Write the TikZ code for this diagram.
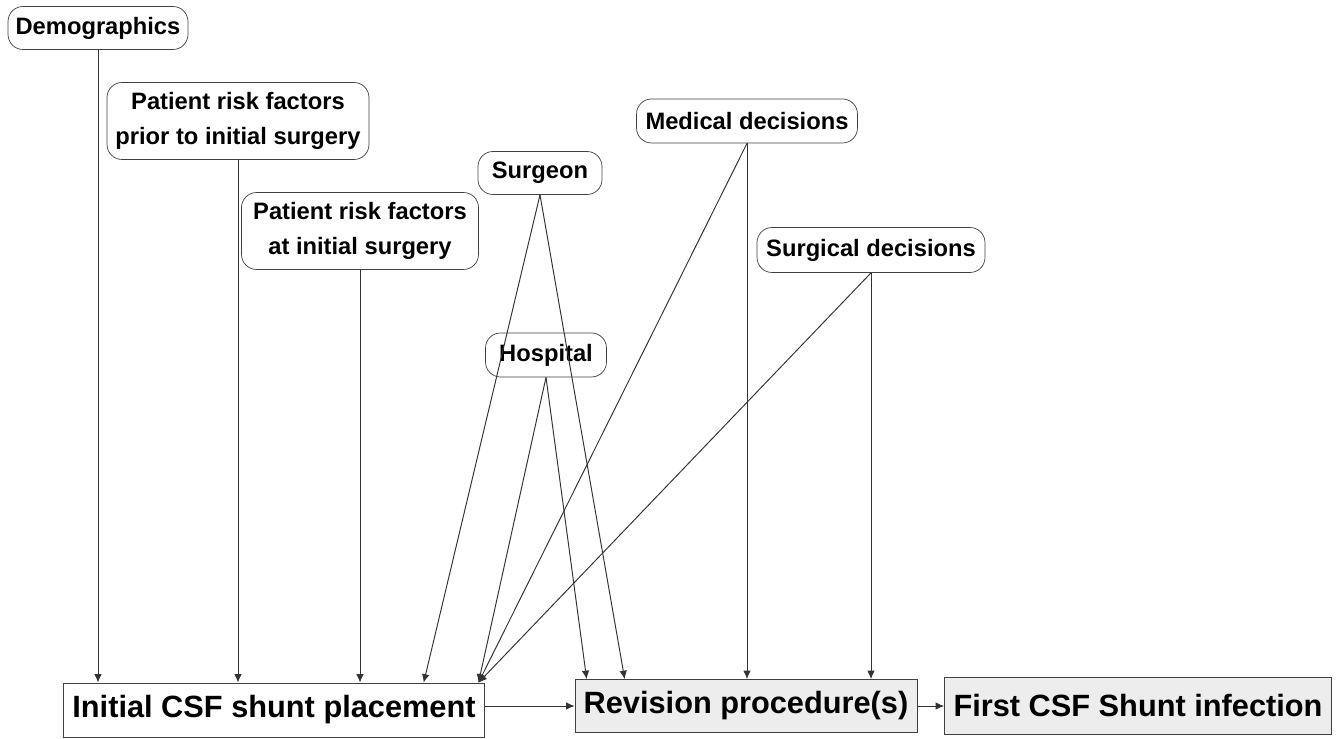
\documentclass[tikz,border=0pt]{standalone}
\usepackage{fontspec}
\setmainfont{Liberation Sans}
\usetikzlibrary{arrows.meta,calc}
\tikzset{factor/.style={draw=black!75, rounded corners=0.3cm, fill=white, inner sep=1pt,
    align=center, font=\bfseries\fontsize{13.5}{20}\selectfont},
  stage/.style={draw=black!75, fill=black!7, inner sep=1pt,
    font=\bfseries\fontsize{17.5}{20}\selectfont},
  link/.style={draw=black!80, line width=0.55pt, -{Latex[length=1.7mm,width=1.5mm]}}}

\begin{document}
\begin{tikzpicture}[x=0.02cm, y=-0.02cm]
  \useasboundingbox (0,0) rectangle (1342,739);

  \node [factor, minimum width=3.6cm, minimum height=0.86cm] (demo) at (98,28) {Demographics};
  \node [factor, minimum width=5.24cm, minimum height=1.54cm] (prior) at (238,121) {Patient risk factors\\prior to initial surgery};
  \node [factor, minimum width=4.74cm, minimum height=1.54cm] (atinit) at (360,231) {Patient risk factors\\at initial surgery};
  \node [factor, minimum width=2.48cm, minimum height=0.86cm] (surgeon) at (540,173) {Surgeon};
  \node [factor, minimum width=2.42cm, minimum height=0.88cm] (hospital) at (546,355) {Hospital};
  \node [factor, minimum width=4.42cm, minimum height=0.88cm] (medical) at (747,121) {Medical decisions};
  \node [factor, minimum width=4.56cm, minimum height=0.9cm] (surgical) at (871,250) {Surgical decisions};

  \node [stage, fill=white, minimum width=8.42cm, minimum height=1.08cm] (initial) at (274,710) {Initial CSF shunt placement};
  \node [stage, minimum width=6.84cm, minimum height=1.06cm] (revision) at (746,706) {Revision procedure(s)};
  \node [stage, minimum width=7.74cm, minimum height=1.14cm] (infection) at (1138,706) {First CSF Shunt infection};

  % arrival points on the upper edges
  \coordinate (inA) at ($(initial.north west)!0.855!(initial.north east)$);
  \coordinate (inB) at ($(initial.north west)!0.985!(initial.north east)$);
  \coordinate (reA) at ($(revision.north west)!0.035!(revision.north east)$);
  \coordinate (reB) at ($(revision.north west)!0.146!(revision.north east)$);

  \draw [link] (demo.south) -- (demo.south |- initial.north);
  \draw [link] (prior.south) -- (prior.south |- initial.north);
  \draw [link] (atinit.south) -- (atinit.south |- initial.north);

  \draw [link] (surgeon.south) -- (inA);
  \draw [link] (surgeon.south) -- (reB);
  \draw [link] (hospital.south) -- (inB);
  \draw [link] (hospital.south) -- (reA);
  \draw [link] (medical.south) -- (inB);
  \draw [link] (medical.south) -- (medical.south |- revision.north);
  \draw [link] (surgical.south) -- (inB);
  \draw [link] (surgical.south) -- (surgical.south |- revision.north);

  \draw [link] (initial.east |- revision.west) -- (revision.west);
  \draw [link] (revision.east) -- (infection.west);
\end{tikzpicture}
\end{document}
